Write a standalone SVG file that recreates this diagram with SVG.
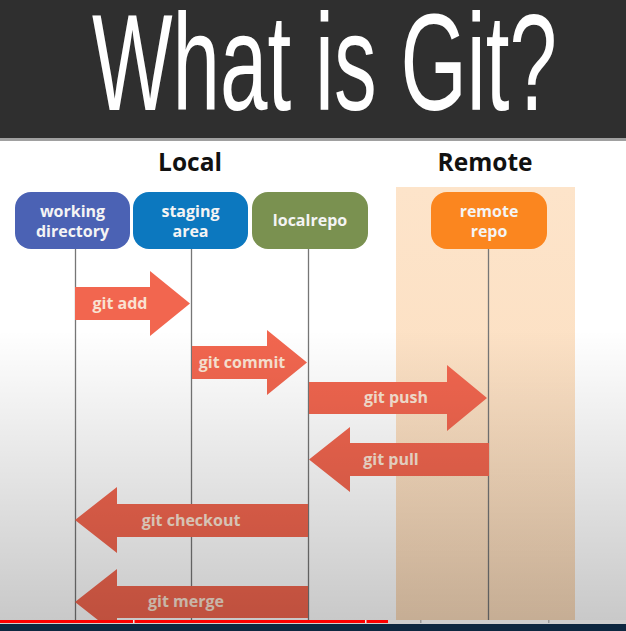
<svg xmlns="http://www.w3.org/2000/svg" width="626" height="631" viewBox="0 0 626 631">
  <defs>
    <linearGradient id="peach" x1="0" y1="0" x2="0" y2="1">
      <stop offset="0" stop-color="#fde4ca"/>
      <stop offset="1" stop-color="#fbdcbc"/>
    </linearGradient>
    <linearGradient id="shade" x1="0" y1="0" x2="0" y2="1">
      <stop offset="0" stop-color="#000" stop-opacity="0"/>
      <stop offset="1" stop-color="#000" stop-opacity="0.22"/>
    </linearGradient>
    <style>
      .node text { font-family: "Open Sans", "Liberation Sans", sans-serif; font-weight: bold; font-size: 16px; fill: #f4f4f4; text-anchor: middle; }
      .head { font-family: "Open Sans", "Liberation Sans", sans-serif; font-weight: bold; font-size: 24.5px; fill: #111; text-anchor: middle; }
      .arrow { fill: #f2664f; }
      .alabel { font-family: "Open Sans", "Liberation Sans", sans-serif; font-weight: bold; font-size: 16px; fill: #f9e2d2; text-anchor: middle; }
      .life { stroke: #767676; stroke-width: 1.3; }
    </style>
  </defs>

  <!-- background -->
  <rect x="0" y="0" width="626" height="631" fill="#ffffff"/>
  <rect x="396" y="187" width="179" height="434" fill="url(#peach)"/>

  <!-- title bar -->
  <rect x="0" y="0" width="626" height="138" fill="#2f2f2f"/>
  <rect x="0" y="138" width="626" height="3" fill="#a0a0a0"/>
  <g transform="translate(324.5,110) scale(1,1.3)">
    <text x="0" y="0" font-family="'Liberation Sans', Arial, sans-serif" font-size="105" fill="#ffffff" text-anchor="middle" textLength="465" lengthAdjust="spacingAndGlyphs">What is Git?</text>
  </g>

  <text class="head" x="190" y="171">Local</text>
  <text class="head" x="485" y="171">Remote</text>

  <!-- lifelines -->
  <g id="lifelines">
    <line class="life" x1="75.5" y1="249" x2="75.5" y2="621"/>
    <line class="life" x1="191.5" y1="249" x2="191.5" y2="621"/>
    <line class="life" x1="308.5" y1="249" x2="308.5" y2="621"/>
    <line class="life" x1="488.5" y1="249" x2="488.5" y2="621"/>
  </g>

  <g id="working-directory" class="node">
    <rect x="15" y="192" width="115" height="57" rx="16" fill="#4b62b4"/>
    <text x="72.5" y="217">working</text>
    <text x="72.5" y="237">directory</text>
  </g>
  <g id="staging-area" class="node">
    <rect x="133" y="192" width="115" height="57" rx="16" fill="#0c78bf"/>
    <text x="190.5" y="217">staging</text>
    <text x="190.5" y="237">area</text>
  </g>
  <g id="localrepo" class="node">
    <rect x="252" y="192" width="116" height="57" rx="16" fill="#7a9150"/>
    <text x="310" y="226">localrepo</text>
  </g>
  <g id="remote-repo" class="node">
    <rect x="431" y="192" width="116" height="57" rx="16" fill="#fb861f"/>
    <text x="489" y="217">remote</text>
    <text x="489" y="237">repo</text>
  </g>

  <!-- connectors -->
  <g id="connectors">
    <polygon class="arrow" points="75,287 150,287 150,271 190,303.5 150,336 150,320 75,320"/>
    <text class="alabel" x="120" y="309">git add</text>
    <polygon class="arrow" points="192,346 267,346 267,330 307,362.5 267,395 267,379 192,379"/>
    <text class="alabel" x="242" y="368">git commit</text>
    <polygon class="arrow" points="309,382 447,382 447,365 487,398 447,431 447,414 309,414"/>
    <text class="alabel" x="396" y="403">git push</text>
    <polygon class="arrow" points="489,443 350,443 350,427 309,459.5 350,492 350,476 489,476"/>
    <text class="alabel" x="391" y="465">git pull</text>
    <polygon class="arrow" points="308,504 117,504 117,487 75,520 117,553 117,537 308,537"/>
    <text class="alabel" x="191" y="526">git checkout</text>
    <polygon class="arrow" points="308,586 117,586 117,569 75,602 117,635 117,618 308,618"/>
    <text class="alabel" x="186" y="607">git merge</text>
  </g>

  <!-- lighting shade -->
  <rect x="0" y="330" width="626" height="301" fill="url(#shade)"/>

  <!-- player bar -->
  <rect x="0" y="620" width="626" height="4" fill="#cfcfcf"/>
  <rect x="0" y="620" width="388" height="3" fill="#ff0000"/>
  <rect x="133" y="620" width="1.5" height="3" fill="#e8e8e8"/>
  <rect x="365" y="620" width="1.5" height="3" fill="#e8e8e8"/>
  <rect x="420" y="620" width="1.5" height="3" fill="#9a9a9a"/>
  <rect x="548" y="620" width="1.5" height="3" fill="#9a9a9a"/>
  <rect x="0" y="624" width="626" height="7" fill="#0e2841"/>
</svg>
